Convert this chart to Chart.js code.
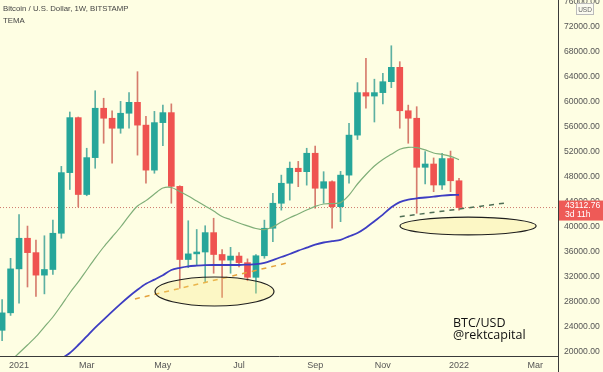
<!DOCTYPE html>
<html><head><meta charset="utf-8">
<script src="https://cdn.jsdelivr.net/npm/chart.js@4.4.1/dist/chart.umd.min.js"></script>
<style>
html,body{margin:0;padding:0;background:#fefee3;}
#wrap{position:relative;width:603px;height:372px;overflow:hidden;background:#fefee3;}
canvas{position:absolute;left:0;top:0;}
.t{position:absolute;font-family:"Liberation Sans",Arial,sans-serif;color:#444;font-size:7.8px;white-space:nowrap;}
.brand{position:absolute;left:453px;top:317px;font-family:"Open Sans",sans-serif;font-size:12.5px;line-height:12px;color:#111;font-weight:500;white-space:nowrap;}
</style></head><body>
<div id="wrap">
<canvas id="c" width="603" height="372"></canvas>
<div class="t" style="left:3px;top:4px;">Bitcoin / U.S. Dollar, 1W, BITSTAMP</div>
<div class="t" style="left:3px;top:16px;">TEMA</div>
<div class="brand">BTC/USD<br>@rektcapital</div>
</div>
<script>
// Weekly candles, week start dates
const weekStarts = ['2020-12-21','2020-12-28','2021-01-04','2021-01-11','2021-01-18','2021-01-25','2021-02-01','2021-02-08','2021-02-15','2021-02-22',
 '2021-03-01','2021-03-08','2021-03-15','2021-03-22','2021-03-29','2021-04-05','2021-04-12','2021-04-19','2021-04-26','2021-05-03',
 '2021-05-10','2021-05-17','2021-05-24','2021-05-31','2021-06-07','2021-06-14','2021-06-21','2021-06-28','2021-07-05','2021-07-12',
 '2021-07-19','2021-07-26','2021-08-02','2021-08-09','2021-08-16','2021-08-23','2021-08-30','2021-09-06','2021-09-13','2021-09-20',
 '2021-09-27','2021-10-04','2021-10-11','2021-10-18','2021-10-25','2021-11-01','2021-11-08','2021-11-15','2021-11-22','2021-11-29',
 '2021-12-06','2021-12-13','2021-12-20','2021-12-27','2022-01-03'];
const opens  = [23470,26270,33300,38200,35900,32300,33200,39000,48700,57500,
 45200,51100,59000,57400,55800,58200,59950,56300,49100,56700,
 58300,46500,34800,35700,36000,39100,35600,34700,35350,34300,
 31950,35400,39800,43800,47000,49400,48850,51800,46200,47250,
 43250,48300,54700,61500,60950,61500,63250,65550,58600,57400,
 49550,50080,46720,50950,47400];
const highs  = [28400,34990,42000,40150,37900,38600,41100,49700,58400,57600,
 52600,61800,60600,58600,60100,61500,64850,57700,58500,59500,
 59700,46600,41000,39600,40200,41400,36400,36750,35900,34900,
 35600,41100,45400,48300,50400,50500,52600,52950,48850,47400,
 48900,56600,63100,67000,63650,64600,69000,66450,59500,59250,
 52050,51050,51800,52150,47800];
const lows   = [21800,25850,27800,30400,28900,29300,32400,38200,46000,43200,
 45000,49400,53400,50200,55000,55800,51500,47000,48600,53000,
 43800,30200,33500,33900,31200,32600,28750,32600,33600,31400,
 29400,35000,37650,42700,44300,46450,46700,43000,43800,39800,
 40850,47000,54000,59000,56800,59700,62300,55800,53400,42200,
 46900,45650,46000,45650,42700];
const closes = [26260,33300,38200,35900,32300,33200,39000,48700,57500,45200,
 51100,59000,57400,55800,58200,59950,56300,49100,56700,58300,
 46500,34800,35700,36000,39100,35600,34700,35350,34300,31950,
 35400,39800,43800,47000,49400,48850,51800,46200,47250,43250,
 48300,54700,61500,60950,61500,63250,65550,58600,57400,49550,
 50080,46720,50950,47400,43112.76];
// TEMA lines (green = fast, blue = slow)
const temaFast = [17300,18560,19840,21120,22450,24020,25600,27470,29440,31220,
 33120,35010,36800,38400,40000,41790,43360,44220,45280,46240,
 46320,45660,44960,44160,43360,42560,41680,41170,40640,40190,
 39760,39580,40000,40800,41490,42080,42720,43300,43680,43750,
 43900,45100,46880,48400,49760,50800,51630,52450,52740,52700,
 52340,51840,51630,51310,50780];
const temaSlow = [null,null,null,null,null,null,17000,18880,19840,21120,
 22510,23900,25180,26460,27700,28880,29950,30910,31580,32270,
 33120,33470,33710,33820,33900,33920,33920,33920,33920,33980,
 34050,34260,34700,35200,35680,36220,36690,37170,37520,37730,
 37950,38500,39040,39890,40910,41980,43150,43970,44380,44580,
 44720,44860,45010,45120,45130];
const xTickIdx = [2,10,19,28,37,45,54,63];
const xTickLabels = ['2021','Mar','May','Jul','Sep','Nov','2022','Mar'];
const yTicks = [20000,24000,28000,32000,36000,40000,44000,48000,52000,56000,60000,64000,68000,72000,76000];
const lastPrice = 43112.76;
const lastPriceTimer = '3d 11h';
const orangeTrend = [{x:15.7,y:28480},{x:33.7,y:34240}];
const darkTrend = [{x:47.0,y:41650},{x:59.8,y:43890}];
const zones = [{x:25.1,y:29680,rx:7.03,ry:2320},{x:55.07,y:40160,rx:8.04,ry:1410}];

const UP='#26a69a', DOWN='#ef5350', UPW='rgba(38,150,140,0.75)', DOWNW='rgba(200,80,70,0.75)';
const idx = opens.map((_,i)=>i);
const isUp = i => closes[i] >= opens[i];
const FONT = '"Liberation Sans", Arial, sans-serif';

const overlay = {
  id:'overlay',
  afterDatasetsDraw(chart){
    const {ctx, scales:{x,y}} = chart;
    ctx.save();
    zones.forEach(z=>{
      const cx=x.getPixelForValue(z.x), cy=y.getPixelForValue(z.y);
      const rx=x.getPixelForValue(z.x+z.rx)-cx, ry=cy-y.getPixelForValue(z.y+z.ry);
      ctx.beginPath(); ctx.ellipse(cx,cy,rx,ry,0,0,Math.PI*2);
      ctx.fillStyle='rgba(247,230,120,0.28)'; ctx.fill();
      ctx.lineWidth=1.2; ctx.strokeStyle='#1e1e1e'; ctx.stroke();
    });
    ctx.restore();
  },
  afterDraw(chart){
    const {ctx, chartArea:a, scales:{y}} = chart;
    ctx.save();
    ctx.strokeStyle='#3a3a3a'; ctx.lineWidth=1;
    ctx.beginPath(); ctx.moveTo(a.right+0.5,a.bottom); ctx.lineTo(a.right+0.5,372); ctx.stroke();
    const py=y.getPixelForValue(lastPrice);
    ctx.fillStyle='#ee5a57';
    ctx.fillRect(a.right+1, py-7, 603-a.right, 20);
    ctx.fillStyle='#ffffff'; ctx.font='8.6px '+FONT;
    ctx.textBaseline='middle'; ctx.textAlign='left';
    ctx.fillText(lastPrice.toFixed(2), a.right+7, py-1.5);
    ctx.fillText(lastPriceTimer, a.right+7, py+7.5);
    ctx.fillStyle='#fbfbf0'; ctx.strokeStyle='#bbbbbb';
    ctx.fillRect(576,3,18,12); ctx.strokeRect(576.5,3.5,17,11);
    ctx.fillStyle='#666'; ctx.font='6.5px '+FONT;
    ctx.textAlign='center'; ctx.fillText('USD',585,10);
    ctx.restore();
  }
};

new Chart(document.getElementById('c'), {
  type:'bar',
  data:{datasets:[
    {type:'bar', label:'body', order:0, grouped:false, barThickness:6, minBarLength:1,
     data: idx.map(i=>({x:i, y:[opens[i], closes[i]]})),
     backgroundColor: idx.map(i=>isUp(i)?UP:DOWN), borderWidth:0},
    {type:'bar', label:'wick', order:1, grouped:false, barThickness:1,
     data: idx.map(i=>({x:i, y:[lows[i], highs[i]]})),
     backgroundColor: idx.map(i=>isUp(i)?UPW:DOWNW), borderWidth:0},
    {type:'line', label:'fast', order:-1, data: idx.map(i=>({x:i,y:temaFast[i]})),
     borderColor:'#7fae78', borderWidth:1.2, pointRadius:0, tension:0.3, fill:false},
    {type:'line', label:'slow', order:-2, data: idx.map(i=>({x:i,y:temaSlow[i]})),
     borderColor:'#3d3dc2', borderWidth:1.8, pointRadius:0, tension:0.3, fill:false},
    {type:'line', label:'orange', order:-3, data: orangeTrend,
     borderColor:'#e4a23c', borderWidth:1.5, borderDash:[5,5], pointRadius:0, fill:false},
    {type:'line', label:'dark', order:-3, data: darkTrend,
     borderColor:'#4f6e55', borderWidth:1.5, borderDash:[5,5], pointRadius:0, fill:false},
    {type:'line', label:'price', order:5, data:[{x:-0.25,y:lastPrice},{x:65.7,y:lastPrice}],
     borderColor:'rgba(200,100,90,0.85)', borderWidth:1, borderDash:[1,2], pointRadius:0, fill:false}
  ]},
  options:{
    responsive:false, animation:false, devicePixelRatio:1,
    layout:{padding:0},
    plugins:{legend:{display:false}, tooltip:{enabled:false}},
    scales:{
      x:{type:'linear', offset:false, min:-0.25, max:65.7,
        afterBuildTicks:s=>{s.ticks=xTickIdx.map(v=>({value:v}));},
        afterFit:s=>{s.height=16; s.paddingLeft=0; s.paddingRight=0;},
        grid:{display:false, drawTicks:false, offset:false},
        border:{display:true, color:'#3a3a3a', width:1},
        ticks:{padding:4, autoSkip:false, maxRotation:0, color:'#555',
          font:{size:9, family:FONT},
          callback:v=>{const k=xTickIdx.indexOf(v); return k<0?'':xTickLabels[k];}}},
      y:{type:'linear', position:'right', min:19360, max:76320,
        afterBuildTicks:s=>{s.ticks=yTicks.map(v=>({value:v}));},
        afterFit:s=>{s.width=45; s.paddingTop=0; s.paddingBottom=0;},
        grid:{display:false, drawTicks:false},
        border:{display:true, color:'#3a3a3a', width:1},
        ticks:{padding:6, autoSkip:false, color:'#555',
          font:{size:8.6, family:FONT},
          callback:v=>Number(v).toFixed(2)}}
    }
  },
  plugins:[overlay]
});
</script>
</body></html>
